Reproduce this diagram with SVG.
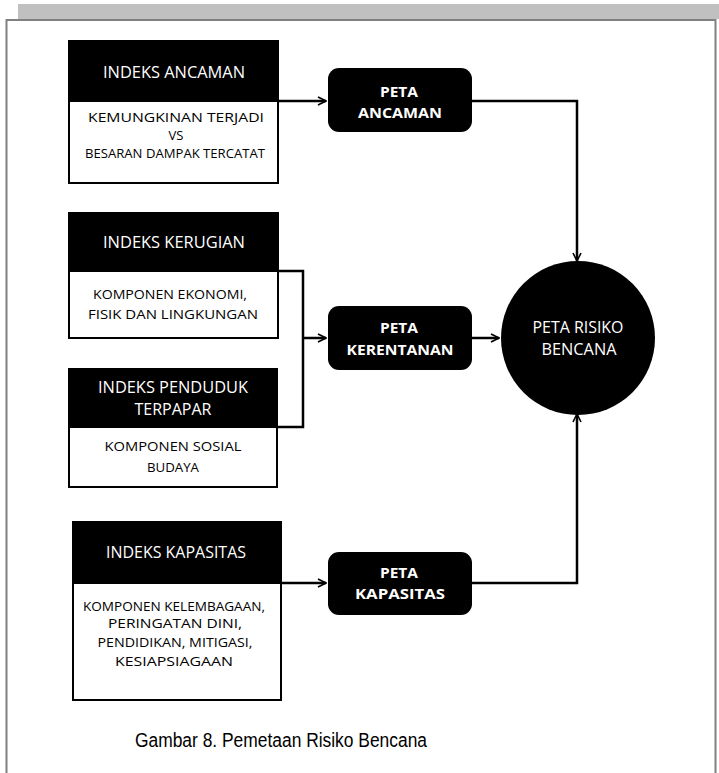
<svg xmlns="http://www.w3.org/2000/svg" width="719" height="773" viewBox="0 0 719 773">
<style>
.hd{font-family:"Open Sans","Liberation Sans",sans-serif;font-size:16px;fill:#fff;text-anchor:middle}
.bd{font-family:"Open Sans","Liberation Sans",sans-serif;font-size:13px;fill:#000;text-anchor:middle}
.sm{font-size:12px}
.pt{font-family:"Open Sans","Liberation Sans",sans-serif;font-size:15px;font-weight:bold;fill:#fff;text-anchor:middle}
.cap{font-family:"Liberation Sans",Arial,sans-serif;font-size:20px;fill:#000;text-anchor:middle}
.blk{fill:#000}
.wht{fill:#fff;stroke:#000;stroke-width:2}
.ln{fill:none;stroke:#000;stroke-width:2.5}
</style>
<defs>
<marker id="ar" viewBox="0 0 10 10" refX="9" refY="5" markerWidth="4" markerHeight="4" orient="auto" markerUnits="strokeWidth">
<path d="M1,1 L9,5 L1,9" fill="none" stroke="#000" stroke-width="1.6"/>
</marker>
</defs>
<rect width="719" height="773" fill="#fff"/>
<rect x="18" y="4" width="701" height="15" fill="#c0c0c0"/>
<path d="M6.5,773 V20 H715.5 V773" fill="none" stroke="#808080" stroke-width="2"/>

<g id="connectors">
<path class="ln" d="M278,101 H326" marker-end="url(#ar)"/>
<path class="ln" d="M472,101 H577 V261" marker-end="url(#ar)"/>
<path class="ln" d="M278,271 H303 V427 H277"/>
<path class="ln" d="M303,338 H326" marker-end="url(#ar)"/>
<path class="ln" d="M472,338 H499" marker-end="url(#ar)"/>
<path class="ln" d="M281,583 H326" marker-end="url(#ar)"/>
<path class="ln" d="M472,583 H577 V414" marker-end="url(#ar)"/>
</g>

<g id="indeks-ancaman">
<rect class="wht" x="69" y="101" width="209" height="82"/>
<rect class="blk" x="68" y="40" width="211" height="62"/>
<text class="hd" x="174" y="78" textLength="142" lengthAdjust="spacingAndGlyphs">INDEKS ANCAMAN</text>
<text class="bd" x="176" y="122" textLength="176" lengthAdjust="spacingAndGlyphs">KEMUNGKINAN TERJADI</text>
<text class="bd" x="176" y="140">VS</text>
<text class="bd sm" x="175" y="158" textLength="180" lengthAdjust="spacingAndGlyphs">BESARAN DAMPAK TERCATAT</text>
</g>

<g id="indeks-kerugian">
<rect class="wht" x="69" y="271" width="209" height="67"/>
<rect class="blk" x="68" y="212" width="211" height="60"/>
<text class="hd" x="174" y="248" textLength="142" lengthAdjust="spacingAndGlyphs">INDEKS KERUGIAN</text>
<text class="bd" x="170" y="299" textLength="154" lengthAdjust="spacingAndGlyphs">KOMPONEN EKONOMI,</text>
<text class="bd" x="173" y="319" textLength="170" lengthAdjust="spacingAndGlyphs">FISIK DAN LINGKUNGAN</text>
</g>

<g id="indeks-penduduk">
<rect class="wht" x="69" y="427" width="208" height="60"/>
<rect class="blk" x="68" y="368" width="210" height="60"/>
<text class="hd" x="173" y="393" textLength="150" lengthAdjust="spacingAndGlyphs">INDEKS PENDUDUK</text>
<text class="hd" x="173" y="415" textLength="77" lengthAdjust="spacingAndGlyphs">TERPAPAR</text>
<text class="bd" x="173" y="451" textLength="137" lengthAdjust="spacingAndGlyphs">KOMPONEN SOSIAL</text>
<text class="bd" x="173" y="472" textLength="52" lengthAdjust="spacingAndGlyphs">BUDAYA</text>
</g>

<g id="indeks-kapasitas">
<rect class="wht" x="73" y="583" width="208" height="117"/>
<rect class="blk" x="72" y="521" width="210" height="63"/>
<text class="hd" x="176" y="558" textLength="140" lengthAdjust="spacingAndGlyphs">INDEKS KAPASITAS</text>
<text class="bd sm" x="174" y="611" textLength="182" lengthAdjust="spacingAndGlyphs">KOMPONEN KELEMBAGAAN,</text>
<text class="bd sm" x="175" y="628" textLength="134" lengthAdjust="spacingAndGlyphs">PERINGATAN DINI,</text>
<text class="bd sm" x="175" y="647" textLength="155" lengthAdjust="spacingAndGlyphs">PENDIDIKAN, MITIGASI,</text>
<text class="bd sm" x="174" y="666" textLength="118" lengthAdjust="spacingAndGlyphs">KESIAPSIAGAAN</text>
</g>

<g id="peta-ancaman">
<rect class="blk" x="328" y="68" width="144" height="64" rx="11"/>
<text class="pt" x="399" y="97" textLength="38" lengthAdjust="spacingAndGlyphs">PETA</text>
<text class="pt" x="400" y="118" textLength="84" lengthAdjust="spacingAndGlyphs">ANCAMAN</text>
</g>

<g id="peta-kerentanan">
<rect class="blk" x="328" y="306" width="144" height="64" rx="11"/>
<text class="pt" x="399" y="333" textLength="38" lengthAdjust="spacingAndGlyphs">PETA</text>
<text class="pt" x="400" y="355" textLength="107" lengthAdjust="spacingAndGlyphs">KERENTANAN</text>
</g>

<g id="peta-kapasitas">
<rect class="blk" x="328" y="552" width="144" height="63" rx="11"/>
<text class="pt" x="399" y="578" textLength="38" lengthAdjust="spacingAndGlyphs">PETA</text>
<text class="pt" x="400" y="599" textLength="90" lengthAdjust="spacingAndGlyphs">KAPASITAS</text>
</g>

<g id="peta-risiko">
<circle cx="578" cy="338" r="77" fill="#000"/>
<text class="hd" x="578" y="333" textLength="91" lengthAdjust="spacingAndGlyphs">PETA RISIKO</text>
<text class="hd" x="579" y="355" textLength="75" lengthAdjust="spacingAndGlyphs">BENCANA</text>
</g>

<text class="cap" x="281" y="747" textLength="292" lengthAdjust="spacingAndGlyphs">Gambar 8. Pemetaan Risiko Bencana</text>
</svg>
